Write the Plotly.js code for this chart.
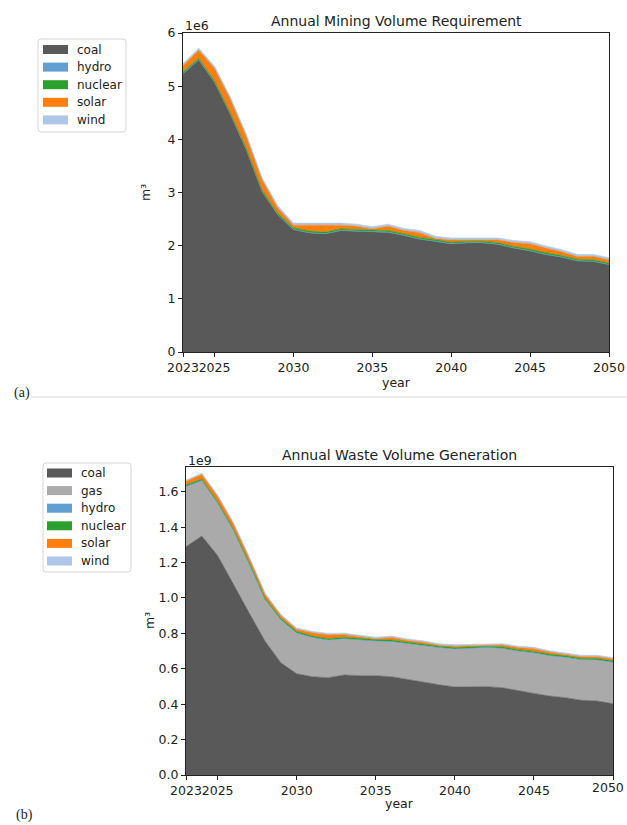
<!DOCTYPE html>
<html>
<head>
<meta charset="utf-8">
<script src="https://cdn.plot.ly/plotly-3.0.1.min.js"></script>
<style>html,body{margin:0;padding:0;background:#fff;}#chart{width:627px;height:825px;}</style>
</head>
<body>
<div id="chart"></div>
<script>
// Years
const years = [2023,2024,2025,2026,2027,2028,2029,2030,2031,2032,2033,2034,2035,2036,2037,2038,2039,2040,2041,2042,2043,2044,2045,2046,2047,2048,2049,2050];
const xTickVals = [2023,2025,2030,2035,2040,2045,2050];

// (a) Annual Mining Volume Requirement, m³
const miningSeries = ['coal','hydro','nuclear','solar','wind'];
const miningCoal    = [5.23e6,5.49e6,5.07e6,4.47e6,3.81e6,3.02e6,2.58e6,2.30e6,2.24e6,2.22e6,2.28e6,2.27e6,2.27e6,2.25e6,2.19e6,2.12e6,2.08e6,2.03e6,2.05e6,2.05e6,2.02e6,1.95e6,1.90e6,1.83e6,1.78e6,1.71e6,1.70e6,1.64e6];
const miningHydro   = [0.005e6,0.005e6,0.005e6,0.005e6,0.005e6,0.005e6,0.005e6,0.005e6,0.005e6,0.005e6,0.005e6,0.005e6,0.005e6,0.005e6,0.005e6,0.005e6,0.005e6,0.005e6,0.005e6,0.005e6,0.005e6,0.005e6,0.005e6,0.005e6,0.005e6,0.005e6,0.005e6,0.005e6];
const miningNuclear = [0.03e6,0.03e6,0.03e6,0.03e6,0.03e6,0.03e6,0.03e6,0.03e6,0.03e6,0.03e6,0.03e6,0.03e6,0.03e6,0.03e6,0.03e6,0.03e6,0.03e6,0.03e6,0.03e6,0.03e6,0.03e6,0.03e6,0.03e6,0.03e6,0.03e6,0.03e6,0.03e6,0.03e6];
const miningSolar   = [0.12e6,0.15e6,0.23e6,0.25e6,0.22e6,0.19e6,0.10e6,0.05e6,0.11e6,0.13e6,0.07e6,0.06e6,0.01e6,0.08e6,0.06e6,0.09e6,0.02e6,0.04e6,0.02e6,0.02e6,0.05e6,0.07e6,0.10e6,0.09e6,0.07e6,0.05e6,0.06e6,0.06e6];
const miningWind    = [0.04e6,0.04e6,0.04e6,0.04e6,0.04e6,0.04e6,0.04e6,0.04e6,0.04e6,0.04e6,0.04e6,0.04e6,0.04e6,0.04e6,0.04e6,0.04e6,0.04e6,0.04e6,0.04e6,0.04e6,0.04e6,0.04e6,0.04e6,0.04e6,0.04e6,0.04e6,0.04e6,0.04e6];
const miningTickVals = [0,1e6,2e6,3e6,4e6,5e6,6e6];
const miningTickText = ["0","1","2","3","4","5","6"];

// (b) Annual Waste Volume Generation, m³
const wasteSeries = ['coal','gas','hydro','nuclear','solar','wind'];
const wasteCoal    = [1.29e9,1.35e9,1.24e9,1.075e9,0.915e9,0.756e9,0.634e9,0.572e9,0.555e9,0.550e9,0.565e9,0.561e9,0.561e9,0.555e9,0.540e9,0.521e9,0.510e9,0.497e9,0.499e9,0.499e9,0.493e9,0.475e9,0.461e9,0.446e9,0.437e9,0.422e9,0.418e9,0.403e9];
const wasteGas     = [0.338e9,0.312e9,0.294e9,0.305e9,0.275e9,0.234e9,0.241e9,0.228e9,0.220e9,0.210e9,0.203e9,0.199e9,0.194e9,0.197e9,0.200e9,0.207e9,0.208e9,0.213e9,0.216e9,0.219e9,0.221e9,0.223e9,0.227e9,0.226e9,0.226e9,0.228e9,0.230e9,0.232e9];
const wasteHydro   = [0.002e9,0.002e9,0.002e9,0.002e9,0.002e9,0.002e9,0.002e9,0.002e9,0.002e9,0.002e9,0.002e9,0.002e9,0.002e9,0.002e9,0.002e9,0.002e9,0.002e9,0.002e9,0.002e9,0.002e9,0.002e9,0.002e9,0.002e9,0.002e9,0.002e9,0.002e9,0.002e9,0.002e9];
const wasteNuclear = [0.008e9,0.008e9,0.008e9,0.008e9,0.008e9,0.008e9,0.008e9,0.008e9,0.008e9,0.008e9,0.008e9,0.008e9,0.008e9,0.008e9,0.008e9,0.008e9,0.008e9,0.008e9,0.008e9,0.008e9,0.008e9,0.008e9,0.008e9,0.008e9,0.008e9,0.008e9,0.008e9,0.008e9];
const wasteSolar   = [0.020e9,0.025e9,0.030e9,0.028e9,0.025e9,0.020e9,0.015e9,0.012e9,0.018e9,0.022e9,0.015e9,0.012e9,0.005e9,0.015e9,0.010e9,0.012e9,0.005e9,0.008e9,0.005e9,0.008e9,0.010e9,0.012e9,0.015e9,0.012e9,0.010e9,0.008e9,0.010e9,0.010e9];
const wasteWind    = [0.008e9,0.008e9,0.008e9,0.008e9,0.008e9,0.008e9,0.008e9,0.008e9,0.008e9,0.008e9,0.008e9,0.008e9,0.008e9,0.008e9,0.008e9,0.008e9,0.008e9,0.008e9,0.008e9,0.008e9,0.008e9,0.008e9,0.008e9,0.008e9,0.008e9,0.008e9,0.008e9,0.008e9];
const wasteTickVals = [0,0.2e9,0.4e9,0.6e9,0.8e9,1.0e9,1.2e9,1.4e9,1.6e9];
const wasteTickText = ["0.0","0.2","0.4","0.6","0.8","1.0","1.2","1.4","1.6"];

const colors = {coal:'#595959', gas:'#aaaaaa', hydro:'#619fd2', nuclear:'#2ca02c', solar:'#ff7f0e', wind:'#aec7e8'};

function area(name, y, xa, ya, group) {
  return {
    type:'scatter', mode:'lines', x: years, y: y, name: name,
    stackgroup: group, line:{width:0.6, color: colors[name]}, fillcolor: colors[name],
    xaxis: xa, yaxis: ya, showlegend:false, hoverinfo:'skip'
  };
}

const data = [
  area('coal', miningCoal, 'x', 'y', 'a'),
  area('hydro', miningHydro, 'x', 'y', 'a'),
  area('nuclear', miningNuclear, 'x', 'y', 'a'),
  area('solar', miningSolar, 'x', 'y', 'a'),
  area('wind', miningWind, 'x', 'y', 'a'),
  area('coal', wasteCoal, 'x2', 'y2', 'b'),
  area('gas', wasteGas, 'x2', 'y2', 'b'),
  area('hydro', wasteHydro, 'x2', 'y2', 'b'),
  area('nuclear', wasteNuclear, 'x2', 'y2', 'b'),
  area('solar', wasteSolar, 'x2', 'y2', 'b'),
  area('wind', wasteWind, 'x2', 'y2', 'b')
];

const W = 627, H = 825;
const px = v => v / W;
const py = v => 1 - v / H;
const FAM = 'DejaVu Sans, sans-serif';
const TXT = '#222';

function xaxis(dom, anchor) {
  return {
    domain: dom, anchor: anchor, range:[2023,2050], tickmode:'array', tickvals: xTickVals,
    ticktext: xTickVals.map(String), tickangle:0, ticks:'outside', ticklen:4, tickcolor:TXT,
    showline:true, mirror:true, linecolor:TXT, linewidth:1, showgrid:false, zeroline:false,
    tickfont:{family:FAM, size:12.5, color:TXT}, automargin:false
  };
}
function yaxis(dom, anchor, range, tv, tt) {
  return {
    domain: dom, anchor: anchor, range: range, tickmode:'array', tickvals: tv, ticktext: tt,
    ticks:'outside', ticklen:4, tickcolor:TXT, showline:true, mirror:true, linecolor:TXT, linewidth:1,
    showgrid:false, zeroline:false, automargin:false,
    tickfont:{family:FAM, size:12.5, color:TXT}
  };
}

function ann(text, x, y, opts) {
  return Object.assign({text:text, xref:'paper', yref:'paper', x:px(x), y:py(y), xanchor:'center', yanchor:'middle', showarrow:false,
    font:{family:FAM, size:12.5, color:TXT}}, opts || {});
}

const annotations = [
  ann('Annual Mining Volume Requirement', 396, 21, {font:{family:FAM, size:14, color:TXT}}),
  ann('Annual Waste Volume Generation', 399, 455, {font:{family:FAM, size:14, color:TXT}}),
  ann('1e6', 183, 26, {xanchor:'left'}),
  ann('1e9', 186, 460, {xanchor:'left'}),
  ann('year', 396, 382),
  ann('year', 399, 803),
  ann('2050', 626, 787, {xanchor:'right'}),
  ann('m³', 146, 193, {textangle:-90}),
  ann('m³', 149, 621, {textangle:-90}),
  ann('(a)', 12, 393, {xanchor:'left', font:{family:'Liberation Serif, serif', size:14, color:TXT}}),
  ann('(b)', 14, 815, {xanchor:'left', font:{family:'Liberation Serif, serif', size:14, color:TXT}})
];

const shapes = [
  {type:'line', xref:'paper', yref:'paper', x0: px(31), x1: 1, y0: py(397), y1: py(397), line:{color:'#d9d9d9', width:1}}
];

// matplotlib-style legends drawn as shapes + text
function roundedBox(x0, y0, x1, y1, r) {
  return 'M' + px(x0 + r) + ',' + py(y0) +
    ' L' + px(x1 - r) + ',' + py(y0) +
    ' Q' + px(x1) + ',' + py(y0) + ' ' + px(x1) + ',' + py(y0 + r) +
    ' L' + px(x1) + ',' + py(y1 - r) +
    ' Q' + px(x1) + ',' + py(y1) + ' ' + px(x1 - r) + ',' + py(y1) +
    ' L' + px(x0 + r) + ',' + py(y1) +
    ' Q' + px(x0) + ',' + py(y1) + ' ' + px(x0) + ',' + py(y1 - r) +
    ' L' + px(x0) + ',' + py(y0 + r) +
    ' Q' + px(x0) + ',' + py(y0) + ' ' + px(x0 + r) + ',' + py(y0) + ' Z';
}
function addLegend(names, bx0, by0, bx1, by1, patchX, textX, firstY, step) {
  shapes.push({type:'path', xref:'paper', yref:'paper', path: roundedBox(bx0, by0, bx1, by1, 3),
    line:{color:'#d6d6d6', width:1}, fillcolor:'rgba(255,255,255,0.8)'});
  names.forEach((n, i) => {
    const cy = firstY + i * step;
    shapes.push({type:'rect', xref:'paper', yref:'paper', x0: px(patchX), x1: px(patchX + 25),
      y0: py(cy - 4.5), y1: py(cy + 4.5), line:{width:0}, fillcolor: colors[n]});
    annotations.push(ann(n, textX, cy, {xanchor:'left', font:{family:FAM, size:12, color:TXT}}));
  });
}
addLegend(miningSeries, 38, 39, 126, 132, 43, 75, 49.5, 17.6);
addLegend(wasteSeries, 43, 463, 131, 572, 47, 79, 473, 17.6);

const layout = {
  width: W, height: H, margin:{l:0, r:0, t:0, b:0}, paper_bgcolor:'#fff', plot_bgcolor:'#fff',
  font:{family:FAM, size:12, color:TXT}, showlegend:false,
  xaxis: xaxis([px(183), px(609)], 'y'),
  yaxis: yaxis([py(352), py(33)], 'x', [0, 6e6], miningTickVals, miningTickText),
  xaxis2: xaxis([px(186), px(613)], 'y2'),
  yaxis2: yaxis([py(775), py(467)], 'x2', [0, 1.74e9], wasteTickVals, wasteTickText),
  annotations: annotations,
  shapes: shapes
};

Plotly.newPlot('chart', data, layout, {staticPlot:true, displayModeBar:false});
</script>
</body>
</html>
